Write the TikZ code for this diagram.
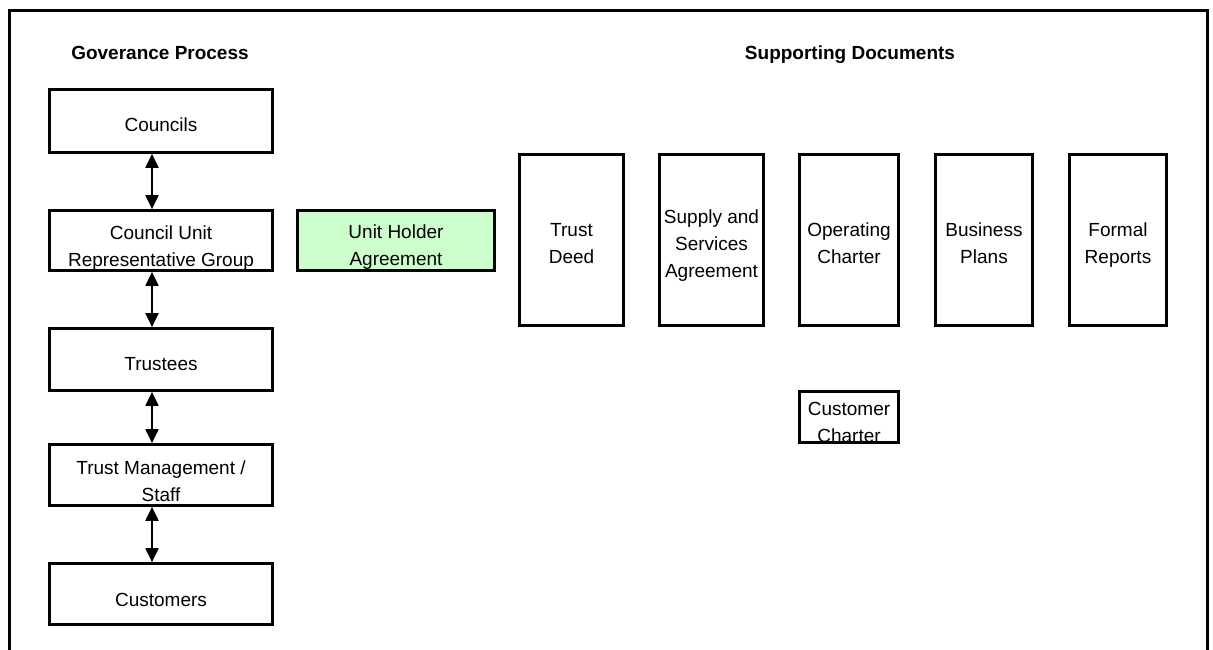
\documentclass[tikz,border=0pt]{standalone}
\usepackage{fontspec}
\setmainfont{Liberation Sans}
\usetikzlibrary{arrows.meta}
\definecolor{uhgreen}{HTML}{CCFFCC}
\newcommand\lnstrut{\rule[-5pt]{0pt}{19pt}}
\begin{document}
\begin{tikzpicture}[x=1pt,y=-1pt,
  box/.style={draw, line width=2.7pt, inner sep=0pt},
  txt/.style={align=center, font=\fontsize{19}{27}\selectfont, inner sep=0pt},
  ttl/.style={font=\bfseries\fontsize{19}{27}\selectfont, inner sep=0pt},
  arr/.style={line width=2pt, {Triangle[length=14pt,width=13pt]}-{Triangle[length=14pt,width=13pt]}}]
\useasboundingbox (0,0) rectangle (1213,650);
\draw[line width=3pt] (9.5,650) -- (9.5,11) -- (1207.5,11) -- (1207.5,650);
% titles
\node[ttl] (gp) at (160,55.5) {\lnstrut Goverance Process};
\node[ttl] (sd) at (850,55.5) {\lnstrut Supporting Documents};
% governance boxes
\node[box, minimum width=223pt, minimum height=63pt] (councils) at (161,121) {};
\node[box, minimum width=223pt, minimum height=60pt] (cur) at (161,240.5) {};
\node[box, minimum width=223pt, minimum height=62pt] (trustees) at (161,359.5) {};
\node[box, minimum width=223pt, minimum height=61pt] (tm) at (161,475) {};
\node[box, minimum width=223pt, minimum height=61pt] (cust) at (161,594) {};
\node[txt] (councils-t) at (161,127.2) {\lnstrut Councils};
\node[txt] (cur-t) at (161,248) {\lnstrut Council Unit\\\lnstrut Representative Group};
\node[txt] (trustees-t) at (161,366.2) {\lnstrut Trustees};
\node[txt] (tm-t) at (161,483.5) {\lnstrut Trust Management /\\\lnstrut Staff};
\node[txt] (cust-t) at (161,602.2) {\lnstrut Customers};
% arrows
\draw[arr] ([xshift=-9pt]councils.south) -- ([xshift=-9pt]cur.north);
\draw[arr] ([xshift=-9pt]cur.south) -- ([xshift=-9pt]trustees.north);
\draw[arr] ([xshift=-9pt]trustees.south) -- ([xshift=-9pt]tm.north);
\draw[arr] ([xshift=-9pt]tm.south) -- ([xshift=-9pt]cust.north);
% unit holder agreement
\node[box, fill=uhgreen, minimum width=197pt, minimum height=60pt] (uha) at (396,240.5) {};
\node[txt] (uha-t) at (396,247.5) {\lnstrut Unit Holder\\\lnstrut Agreement};
% supporting documents
\node[box, minimum width=104pt, minimum height=171pt] (td) at (571.5,240) {};
\node[box, minimum width=104pt, minimum height=171pt] (ssa) at (711.5,240) {};
\node[box, minimum width=99pt, minimum height=171pt] (oc) at (849,240) {};
\node[box, minimum width=97pt, minimum height=171pt] (bp) at (984,240) {};
\node[box, minimum width=97pt, minimum height=171pt] (fr) at (1118,240) {};
\node[txt] (td-t) at (571.5,245.9) {\lnstrut Trust\\\lnstrut Deed};
\node[txt] (ssa-t) at (711.5,246) {\lnstrut Supply and\\\lnstrut Services\\\lnstrut Agreement};
\node[txt] (oc-t) at (849,245.9) {\lnstrut Operating\\\lnstrut Charter};
\node[txt] (bp-t) at (984,245.9) {\lnstrut Business\\\lnstrut Plans};
\node[txt] (fr-t) at (1118,245.9) {\lnstrut Formal\\\lnstrut Reports};
% customer charter
\node[box, minimum width=99pt, minimum height=51pt] (cc) at (849,417) {};
\node[txt] (cc-t) at (849,424.7) {\lnstrut Customer\\\lnstrut Charter};
\end{tikzpicture}
\end{document}
